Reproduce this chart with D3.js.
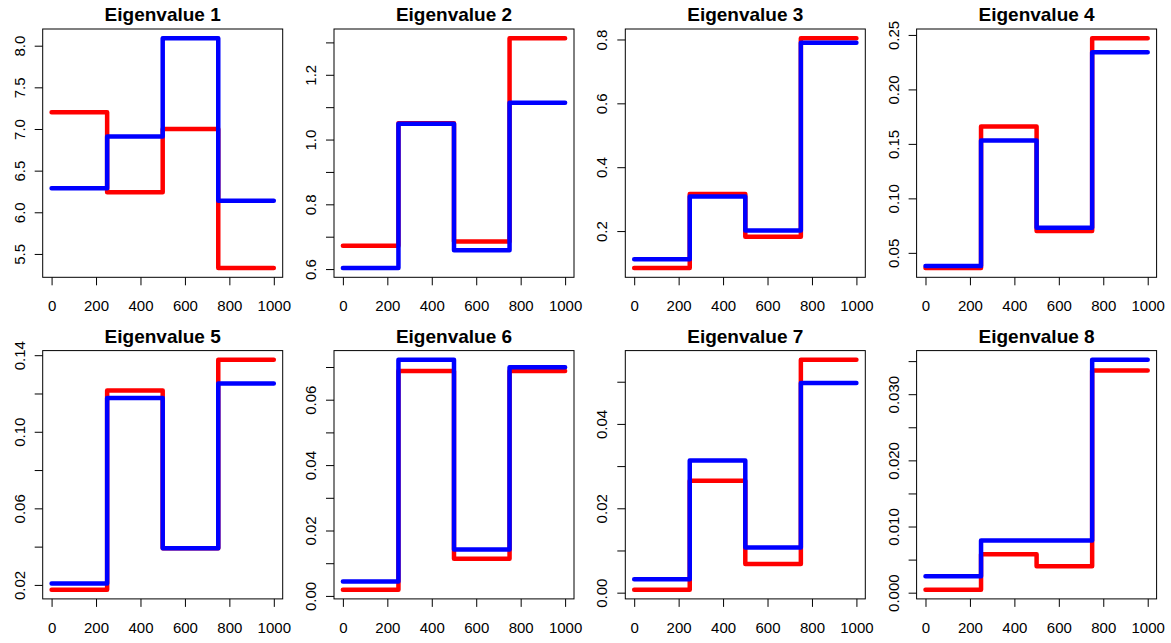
<!DOCTYPE html>
<html>
<head>
<meta charset="utf-8">
<script src="https://cdn.jsdelivr.net/npm/d3@7"></script>
<style>
  body { margin: 0; background: #fff; }
  svg { display: block; font-family: "Liberation Sans", Arial, sans-serif; }
</style>
</head>
<body>
<div id="chart"></div>
<script>
// panel titles
const titles = ["Eigenvalue 1", "Eigenvalue 2", "Eigenvalue 3", "Eigenvalue 4",
                "Eigenvalue 5", "Eigenvalue 6", "Eigenvalue 7", "Eigenvalue 8"];

// step breaks on the x axis (last value is held until 1000)
const xBreaks = [0, 250, 500, 750, 1000];
const xTicks = [0, 200, 400, 600, 800, 1000];

// red series, one row per panel
const redVals = [
  [7.20, 6.24, 7.00, 5.33],
  [0.672, 1.05, 0.685, 1.313],
  [0.084, 0.316, 0.182, 0.804],
  [0.036, 0.166, 0.070, 0.247],
  [0.0175, 0.1215, 0.0392, 0.1376],
  [0.0019, 0.0688, 0.0114, 0.0688],
  [0.0007, 0.0265, 0.0068, 0.0552],
  [0.00045, 0.0058, 0.0040, 0.0336]
];

// blue series
const blueVals = [
  [6.29, 6.91, 8.09, 6.14],
  [0.603, 1.049, 0.658, 1.114],
  [0.112, 0.308, 0.202, 0.790],
  [0.038, 0.153, 0.073, 0.234],
  [0.0207, 0.1177, 0.0392, 0.1252],
  [0.0044, 0.0722, 0.0142, 0.0699],
  [0.0032, 0.0313, 0.0107, 0.0497],
  [0.0025, 0.0079, 0.0079, 0.0352]
];

// y ticks and their labels ("" = tick without label, like R drops them)
const yTicks = [
  [5.5, 6.0, 6.5, 7.0, 7.5, 8.0],
  [0.6, 0.7, 0.8, 0.9, 1.0, 1.1, 1.2, 1.3],
  [0.2, 0.4, 0.6, 0.8],
  [0.05, 0.10, 0.15, 0.20, 0.25],
  [0.02, 0.04, 0.06, 0.08, 0.10, 0.12, 0.14],
  [0.00, 0.01, 0.02, 0.03, 0.04, 0.05, 0.06, 0.07],
  [0.00, 0.01, 0.02, 0.03, 0.04, 0.05],
  [0.000, 0.005, 0.010, 0.015, 0.020, 0.025, 0.030, 0.035]
];
const yLabels = [
  ["5.5", "6.0", "6.5", "7.0", "7.5", "8.0"],
  ["0.6", "", "0.8", "", "1.0", "", "1.2", ""],
  ["0.2", "0.4", "0.6", "0.8"],
  ["0.05", "0.10", "0.15", "0.20", "0.25"],
  ["0.02", "", "0.06", "", "0.10", "", "0.14"],
  ["0.00", "", "0.02", "", "0.04", "", "0.06", ""],
  ["0.00", "", "0.02", "", "0.04", ""],
  ["0.000", "", "0.010", "", "0.020", "", "0.030", ""]
];

const W = 1171, H = 643;
const boxW = 240, boxH = 248.3;
const colStep = 291.3, rowStep = 321.6;
const left0 = 42.7, top0 = 29;

const svg = d3.select("#chart").append("svg")
  .attr("width", W).attr("height", H);

// R style: extend the data range by 4% on each side
function rExtent(lo, hi) {
  const pad = (hi - lo) * 0.04;
  return [lo - pad, hi + pad];
}

const x = d3.scaleLinear().domain(rExtent(0, 1000)).range([0, boxW]);

titles.forEach((title, i) => {
  const col = i % 4, row = Math.floor(i / 4);
  const g = svg.append("g")
    .attr("transform", `translate(${left0 + col * colStep},${top0 + row * rowStep})`);

  const all = redVals[i].concat(blueVals[i]);
  const y = d3.scaleLinear().domain(rExtent(d3.min(all), d3.max(all))).range([boxH, 0]);

  const toPts = vals => xBreaks.map((b, k) => [b, vals[Math.min(k, vals.length - 1)]]);
  const line = d3.line()
    .x(d => x(d[0]))
    .y(d => y(d[1]))
    .curve(d3.curveStepAfter);

  // red first, blue on top
  [[redVals[i], "#ff0000"], [blueVals[i], "#0000ff"]].forEach(([vals, col]) => {
    g.append("path")
      .attr("d", line(toPts(vals)))
      .attr("fill", "none")
      .attr("stroke", col)
      .attr("stroke-width", 4.5)
      .attr("stroke-linecap", "round")
      .attr("stroke-linejoin", "round");
  });

  // box
  g.append("rect")
    .attr("x", 0).attr("y", 0)
    .attr("width", boxW).attr("height", boxH)
    .attr("fill", "none").attr("stroke", "#000").attr("stroke-width", 1);

  // x axis
  const xa = g.append("g")
    .attr("transform", `translate(0,${boxH})`)
    .call(d3.axisBottom(x).tickValues(xTicks).tickSize(8).tickSizeOuter(0).tickFormat(d3.format("d")));
  xa.select(".domain").remove();
  xa.selectAll("line").attr("stroke", "#000");
  xa.selectAll("text")
    .attr("y", 34).attr("dy", 0)
    .attr("fill", "#000")
    .style("font-size", "15px")
    .style("font-family", "'Liberation Sans', Arial, sans-serif");

  // y axis
  const labs = yLabels[i];
  const ya = g.append("g")
    .call(d3.axisLeft(y).tickValues(yTicks[i]).tickSize(8).tickSizeOuter(0)
      .tickFormat((d, k) => labs[k]));
  ya.select(".domain").remove();
  ya.selectAll("line").attr("stroke", "#000");
  ya.selectAll("text")
    .attr("transform", "rotate(-90)")
    .attr("x", 0).attr("y", -18).attr("dy", 0)
    .attr("text-anchor", "middle")
    .attr("fill", "#000")
    .style("font-size", "15px")
    .style("font-family", "'Liberation Sans', Arial, sans-serif");

  // title
  g.append("text")
    .attr("x", boxW / 2).attr("y", -8)
    .attr("text-anchor", "middle")
    .style("font-size", "19px")
    .style("font-weight", "bold")
    .attr("fill", "#000")
    .text(title);
});
</script>
</body>
</html>
